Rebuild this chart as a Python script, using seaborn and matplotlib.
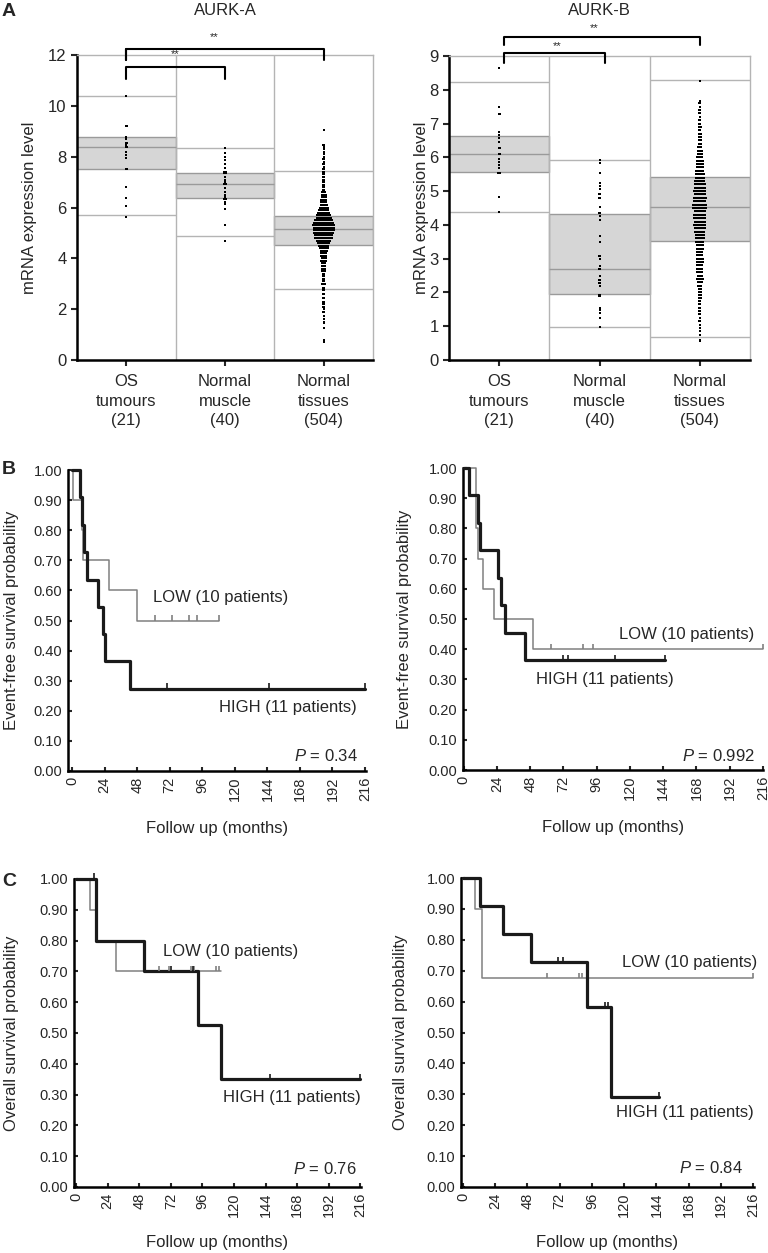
import numpy as np
import matplotlib
matplotlib.use("Agg")
import matplotlib.pyplot as plt
import seaborn as sns

# ---------------- panel A: mRNA expression ----------------
groups = ["OS\ntumours\n(21)", "Normal\nmuscle\n(40)", "Normal\ntissues\n(504)"]

# AURK-A dots (value levels and how many dots sit on each)
aurka_os_lv = [10.37, 9.22, 8.78, 8.7, 8.55, 8.47, 8.39, 8.19, 8.06, 7.95, 7.51, 6.81, 6.38, 6.06, 5.62]
aurka_os_n = [1, 2, 1, 1, 3, 1, 2, 1, 1, 1, 3, 1, 1, 1, 1]
aurka_mus_lv = [8.35, 8.13, 8.0, 7.87, 7.71, 7.54, 7.41, 7.34, 7.21, 7.1, 7.01, 6.92, 6.75, 6.62,
                6.5, 6.42, 6.32, 6.22, 6.13, 5.96, 5.31, 4.68]
aurka_mus_n = [1, 1, 1, 1, 1, 1, 3, 3, 2, 2, 2, 4, 2, 2, 2, 2, 3, 2, 2, 1, 1, 1]
aurka_tis_lv = [0.7, 0.8, 1.25, 1.45, 1.5, 1.6, 1.75, 1.9, 2.0,
                2.1, 2.2, 2.3, 2.45, 2.6, 2.75, 2.85,
                3.0, 3.1, 3.2, 3.3, 3.4, 3.5, 3.6, 3.7, 3.8, 3.9,
                4.0, 4.1, 4.2, 4.3, 4.4, 4.5, 4.6, 4.7, 4.8, 4.9,
                5.0, 5.1, 5.2, 5.3, 5.4, 5.5, 5.6, 5.7, 5.8, 5.9,
                6.0, 6.1, 6.2, 6.3, 6.4, 6.5, 6.6, 6.7, 6.8, 6.9,
                7.0, 7.1, 7.2, 7.3, 7.4, 7.5, 7.6, 7.7, 7.8, 7.9,
                8.0, 8.1, 8.2, 8.3, 8.38, 8.45, 9.05]
aurka_tis_n = [1, 1, 1, 1, 1, 1, 1, 2, 1,
               2, 2, 2, 2, 3, 3, 2,
               4, 3, 3, 3, 3, 4, 4, 4, 5, 7,
               6, 7, 8, 9, 11, 13, 15, 18, 22, 23,
               25, 26, 26, 28, 25, 23, 19, 17, 15, 13,
               11, 9, 8, 7, 6, 6, 5, 3, 3, 3,
               3, 2, 2, 2, 2, 2, 1, 2, 1, 2,
               1, 1, 1, 1, 1, 3, 1]
aurka_q1 = [7.51, 6.37, 4.52]
aurka_med = [8.38, 6.92, 5.14]
aurka_q3 = [8.77, 7.35, 5.66]
aurka_lo = [5.70, 4.87, 2.79]
aurka_hi = [10.39, 8.34, 7.45]

# AURK-B dots
aurkb_os_lv = [8.65, 7.49, 7.27, 6.74, 6.66, 6.58, 6.46, 6.27, 6.1, 5.96, 5.87, 5.77, 5.68, 5.55, 4.82, 4.38]
aurkb_os_n = [1, 1, 2, 1, 1, 1, 1, 2, 2, 1, 1, 1, 1, 3, 1, 1]
aurkb_mus_lv = [5.93, 5.82, 5.55, 5.25, 5.15, 5.05, 4.9, 4.8, 4.53, 4.35, 4.27, 4.15, 3.66, 3.48,
                3.09, 2.99, 2.77, 2.69, 2.48, 2.38, 2.28, 2.2, 1.93, 1.88, 1.55, 1.49, 1.39, 1.24, 0.97]
aurkb_mus_n = [1, 1, 1, 1, 1, 1, 2, 2, 1, 2, 1, 1, 1, 1,
               3, 1, 1, 3, 1, 2, 2, 1, 2, 2, 1, 1, 1, 1, 1]
aurkb_tis_lv = [0.55, 0.6, 0.75, 0.85, 0.95, 1.05, 1.15, 1.25, 1.35, 1.45, 1.55, 1.65, 1.75, 1.85, 1.92,
                2.0, 2.1, 2.2, 2.3, 2.4, 2.5, 2.6, 2.7, 2.8, 2.9,
                3.0, 3.1, 3.2, 3.3, 3.4, 3.5, 3.6, 3.7, 3.8, 3.9,
                4.0, 4.1, 4.2, 4.3, 4.4, 4.5, 4.6, 4.7, 4.8, 4.9,
                5.0, 5.1, 5.2, 5.3, 5.4, 5.5, 5.6, 5.7, 5.8, 5.9,
                6.0, 6.1, 6.2, 6.3, 6.4, 6.5, 6.6, 6.7, 6.8, 6.9,
                7.0, 7.1, 7.2, 7.3, 7.4, 7.5, 7.6, 7.66, 8.25]
aurkb_tis_n = [1, 1, 1, 1, 1, 1, 2, 1, 2, 2, 2, 2, 2, 3, 3,
               4, 4, 5, 6, 9, 6, 7, 7, 7, 8,
               8, 7, 7, 8, 9, 10, 11, 11, 12, 13,
               15, 14, 15, 15, 14, 17, 17, 15, 16, 14,
               15, 14, 13, 12, 11, 11, 10, 9, 9, 8,
               7, 6, 6, 5, 4, 3, 3, 3, 2, 3,
               2, 2, 1, 2, 2, 1, 2, 1, 1]
aurkb_q1 = [5.57, 1.96, 3.53]
aurkb_med = [6.10, 2.70, 4.53]
aurkb_q3 = [6.63, 4.33, 5.42]
aurkb_lo = [4.38, 0.98, 0.68]
aurkb_hi = [8.23, 5.92, 8.28]

# ---------------- panels B/C: Kaplan-Meier steps (months, probability) ----------------
efs_a_low_t = [0, 1, 7, 8, 27, 48, 108]
efs_a_low_s = [1.0, 0.9, 0.8, 0.7, 0.6, 0.5, 0.5]
efs_a_low_cens = [61, 74, 86, 92, 108]
efs_a_high_t = [0, 6, 7.5, 9, 11, 19, 22.5, 24, 43, 216]
efs_a_high_s = [1.0, 0.909, 0.818, 0.727, 0.636, 0.545, 0.455, 0.364, 0.273, 0.273]
efs_a_high_cens = [70, 145, 216]

efs_b_low_t = [0, 8.6, 9.2, 10, 13.7, 21.6, 50, 216]
efs_b_low_s = [1.0, 0.9, 0.8, 0.7, 0.6, 0.5, 0.4, 0.4]
efs_b_low_cens = [63, 86, 93, 216]
efs_b_high_t = [0, 3.6, 10, 11.5, 25, 27, 29.5, 44.6, 145]
efs_b_high_s = [1.0, 0.909, 0.818, 0.727, 0.636, 0.545, 0.455, 0.364, 0.364]
efs_b_high_cens = [72, 75, 109, 145]

os_a_low_t = [0, 11, 15, 30.5, 110]
os_a_low_s = [1.0, 0.9, 0.8, 0.7, 0.7]
os_a_low_cens = [63, 71, 87, 90, 106, 109]
os_a_high_t = [0, 15, 52, 92.5, 110, 216]
os_a_high_s = [1.0, 0.8, 0.7, 0.525, 0.35, 0.35]
os_a_high_cens = [14, 72.5, 89, 147, 216]

os_b_low_t = [0, 9, 14, 216]
os_b_low_s = [1.0, 0.9, 0.675, 0.675]
os_b_low_cens = [62.5, 86.4, 88.6, 216]
os_b_high_t = [0, 12.7, 29.8, 50.6, 92, 110, 146]
os_b_high_s = [1.0, 0.909, 0.818, 0.727, 0.582, 0.291, 0.291]
os_b_high_cens = [71, 74.5, 106, 108, 146]

months = [0, 24, 48, 72, 96, 120, 144, 168, 192, 216]

sns.set_style("ticks")
plt.rcParams["font.family"] = ["Liberation Sans", "DejaVu Sans"]
plt.rcParams["mathtext.fontset"] = "custom"
plt.rcParams["mathtext.it"] = "Liberation Sans:italic"
plt.rcParams["mathtext.rm"] = "Liberation Sans"

W, H = 768, 1253
fig = plt.figure(figsize=(W / 100, H / 100), dpi=100)


def rect(l, r, t, b):
    return [l / W, 1 - b / H, (r - l) / W, (b - t) / H]


GRID = "#b4b4b4"
BOXFILL = "#d6d6d6"
BOXEDGE = "#9a9a9a"


def dot_xy(levels, counts, xc, step=0.008):
    xs, ys = [], []
    for v, n in zip(levels, counts):
        off = (np.arange(n) - (n - 1) / 2) * step
        xs.extend(xc + off)
        ys.extend([v] * n)
    return xs, ys


def expression_panel(ax, title, ymax, cols, q1, med, q3, lo, hi, ylab_x):
    for i in range(3):
        ax.fill_between([i - 0.5, i + 0.5], q1[i], q3[i], color=BOXFILL,
                        edgecolor=BOXEDGE, lw=1, zorder=1)
        ax.hlines(med[i], i - 0.5, i + 0.5, color=BOXEDGE, lw=1, zorder=2)
        ax.hlines([lo[i], hi[i]], i - 0.5, i + 0.5, color=GRID, lw=1, zorder=1)
    ax.vlines([0.5, 1.5], 0, ymax, color=GRID, lw=1, zorder=1)
    xs, ys = [], []
    for i, (lv, n) in enumerate(cols):
        x, y = dot_xy(lv, n, i)
        xs += x
        ys += y
    sns.scatterplot(x=xs, y=ys, ax=ax, color="black", marker="s", s=3,
                    linewidth=0, legend=False, zorder=3)
    ax.set_xlim(-0.5, 2.5)
    ax.set_ylim(0, ymax)
    ax.set_xticks([0, 1, 2])
    ax.set_xticklabels(groups, fontsize=12, linespacing=1.4)
    ax.set_yticks(range(0, ymax + 1, 2 if ymax > 10 else 1))
    ax.tick_params(axis="y", labelsize=12, direction="out", length=4, width=1.5)
    ax.tick_params(axis="x", direction="out", length=4, width=1.5, pad=6)
    for s in ("left", "bottom"):
        ax.spines[s].set_linewidth(1.8)
        ax.spines[s].set_color("black")
    for s in ("top", "right"):
        ax.spines[s].set_visible(True)
        ax.spines[s].set_color(GRID)
        ax.spines[s].set_linewidth(1)
    ax.set_ylabel("mRNA expression level", fontsize=12)
    ax.yaxis.set_label_coords(ylab_x, 0.5)
    ax.set_title(title, fontsize=12, pad=0, y=1.0)


def bracket(ax, x0, x1, ytop, ybot, star_y, star_x):
    ax.plot([x0, x0, x1, x1], [ybot, ytop, ytop, ybot], color="black", lw=1.5,
            clip_on=False, zorder=5)
    ax.text(star_x, star_y, "**", ha="center", va="center", fontsize=8)


axA1 = fig.add_axes(rect(77, 373, 55, 360))
expression_panel(axA1, "AURK-A", 12,
                 [(aurka_os_lv, aurka_os_n), (aurka_mus_lv, aurka_mus_n), (aurka_tis_lv, aurka_tis_n)],
                 aurka_q1, aurka_med, aurka_q3, aurka_lo, aurka_hi, -0.135)
bracket(axA1, 0, 2, 12.24, 11.8, 12.7, 0.89)
bracket(axA1, 0, 1, 11.53, 11.05, 12.02, 0.49)
axA1.plot([0, 0], [11.8, 12.24], color="black", lw=1.5, clip_on=False)
axA1.title.set_position((0.5, 1.13))

axA2 = fig.add_axes(rect(449, 750, 56, 360))
expression_panel(axA2, "AURK-B", 9,
                 [(aurkb_os_lv, aurkb_os_n), (aurkb_mus_lv, aurkb_mus_n), (aurkb_tis_lv, aurkb_tis_n)],
                 aurkb_q1, aurkb_med, aurkb_q3, aurkb_lo, aurkb_hi, -0.066)
bracket(axA2, 0.05, 2.0, 9.56, 9.33, 9.84, 0.95)
bracket(axA2, 0.05, 1.05, 9.09, 8.8, 9.28, 0.58)
axA2.title.set_position((0.5, 1.135))


def km_panel(ax, xlim, curves, ylabel, ylab_x, xlab_y, texts):
    for t, s, cens, color, lw in curves:
        sns.lineplot(x=t, y=s, ax=ax, estimator=None, sort=False, drawstyle="steps-post",
                     color=color, lw=lw, clip_on=False, zorder=3 if lw > 1.5 else 2)
        idx = np.searchsorted(t, cens, side="right") - 1
        sc = np.asarray(s)[idx]
        ax.vlines(cens, sc, sc + 0.018, color=color, lw=1.2, clip_on=False, zorder=4)
    ax.set_xlim(*xlim)
    ax.set_ylim(0, 1.0)
    ax.set_xticks(months)
    ax.set_xticklabels([str(m) for m in months], rotation=90, fontsize=10.5)
    ax.set_yticks(np.arange(0, 1.01, 0.1))
    ax.set_yticklabels([f"{v:.2f}" for v in np.arange(0, 1.01, 0.1)], fontsize=10.5)
    ax.tick_params(direction="in", length=3, width=1.5, pad=4)
    sns.despine(ax=ax)
    for sp in ("left", "bottom"):
        ax.spines[sp].set_linewidth(1.8)
        ax.spines[sp].set_color("black")
    ax.set_ylabel(ylabel, fontsize=12)
    ax.yaxis.set_label_coords(ylab_x, 0.5)
    ax.set_xlabel("Follow up (months)", fontsize=12)
    ax.xaxis.set_label_coords(0.5, xlab_y)
    for x, y, txt, ha in texts:
        ax.text(x, y, txt, ha=ha, va="center", fontsize=12)


LOWC = "#808080"
HIGHC = "#1a1a1a"

axB1 = fig.add_axes(rect(68, 366, 470, 771))
km_panel(axB1, (-3, 216.7),
         [(efs_a_low_t, efs_a_low_s, efs_a_low_cens, LOWC, 1.1),
          (efs_a_high_t, efs_a_high_s, efs_a_high_cens, HIGHC, 2.3)],
         "Event-free survival probability", -0.165, -0.165,
         [(60, 0.575, "LOW (10 patients)", "left"),
          (108, 0.21, "HIGH (11 patients)", "left"),
          (211, 0.05, "$P$ = 0.34", "right")])

axB2 = fig.add_axes(rect(463, 763, 468, 770))
km_panel(axB2, (-0.5, 216),
         [(efs_b_low_t, efs_b_low_s, efs_b_low_cens, LOWC, 1.1),
          (efs_b_high_t, efs_b_high_s, efs_b_high_cens, HIGHC, 2.3)],
         "Event-free survival probability", -0.17, -0.165,
         [(112, 0.45, "LOW (10 patients)", "left"),
          (52.5, 0.30, "HIGH (11 patients)", "left"),
          (210, 0.045, "$P$ = 0.992", "right")])

axC1 = fig.add_axes(rect(74, 361, 879, 1187))
km_panel(axC1, (-1.5, 216.5),
         [(os_a_low_t, os_a_low_s, os_a_low_cens, LOWC, 1.1),
          (os_a_high_t, os_a_high_s, os_a_high_cens, HIGHC, 2.3)],
         "Overall survival probability", -0.19, -0.155,
         [(66, 0.763, "LOW (10 patients)", "left"),
          (111.5, 0.29, "HIGH (11 patients)", "left"),
          (213, 0.06, "$P$ = 0.76", "right")])

axC2 = fig.add_axes(rect(461, 754, 878, 1187))
km_panel(axC2, (-1.5, 216.6),
         [(os_b_low_t, os_b_low_s, os_b_low_cens, LOWC, 1.1),
          (os_b_high_t, os_b_high_s, os_b_high_cens, HIGHC, 2.3)],
         "Overall survival probability", -0.18, -0.155,
         [(118, 0.725, "LOW (10 patients)", "left"),
          (114, 0.24, "HIGH (11 patients)", "left"),
          (208.5, 0.06, "$P$ = 0.84", "right")])

# panel letters
fig.text(2 / W, 1 - 11 / H, "A", fontsize=14, fontweight="bold", va="center")
fig.text(2 / W, 1 - 470 / H, "B", fontsize=14, fontweight="bold", va="center")
fig.text(2 / W, 1 - 882 / H, "C", fontsize=14, fontweight="bold", va="center")

fig.savefig("out.png", dpi=100)
